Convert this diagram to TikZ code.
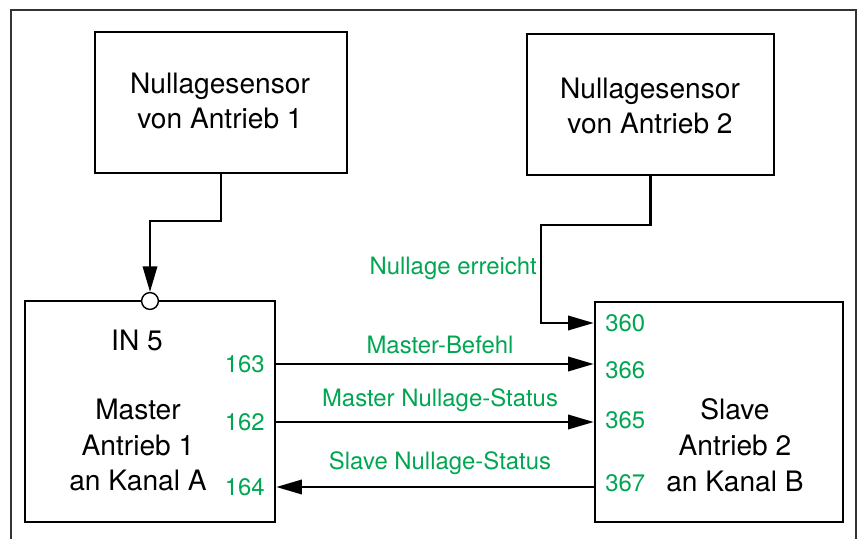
\documentclass[tikz,border=0pt]{standalone}
\usepackage{fontspec}
\setmainfont{TeX Gyre Heros}
\usetikzlibrary{positioning,arrows.meta}
\usepackage{xcolor}
\definecolor{sigGreen}{RGB}{0,166,81}

\begin{document}
\begin{tikzpicture}[x=0.025cm, y=-0.025cm,
  box/.style={draw, line width=1.8pt, inner sep=0pt},
  txt/.style={align=center, font=\fontsize{20}{25.5}\selectfont},
  sig/.style={text=sigGreen, inner sep=0pt, font=\fontsize{17}{20}\selectfont},
  arr/.style={line width=1.6pt, -{Triangle[length=0.64cm, width=0.36cm]}}]
  \useasboundingbox (0,0) rectangle (862,539);
  \draw[line width=0.9pt, black!80] (11,539) -- (11,10) -- (856,10) -- (856,539);

  % sensors
  \node[box, minimum width=6.3cm, minimum height=3.525cm](sensor1) at (221,102.5){};
  \node[txt] at (220,101){Nullagesensor\\von Antrieb 1};
  \node[box, minimum width=6.175cm, minimum height=3.525cm](sensor2) at (650.5,104.5){};
  \node[txt] at (650,106){Nullagesensor\\von Antrieb 2};

  % drives
  \node[box, minimum width=6.25cm, minimum height=5.525cm](master) at (150,411.5){};
  \node[txt] (in5) at (137,340){IN 5};
  \node[txt] (mastertxt) at (138,445){Master\\Antrieb 1\\an Kanal A};
  \node[box, minimum width=6.2cm, minimum height=5.5cm](slave) at (719,412){};
  \node[txt] (slavetxt) at (735,445){Slave\\Antrieb 2\\an Kanal B};
  \node[draw, circle, fill=white, line width=1pt, minimum size=0.42cm, inner sep=0pt](in5dot) at (150,301){};

  % terminals
  \node[sig, anchor=east](n163) at (265,364){163};
  \node[sig, anchor=east](n162) at (265,422){162};
  \node[sig, anchor=east](n164) at (265,487){164};
  \node[sig, anchor=west](n360) at (605,323){360};
  \node[sig, anchor=west](n366) at (605,370){366};
  \node[sig, anchor=west](n365) at (605,420){365};
  \node[sig, anchor=west](n367) at (605,483){367};
  \coordinate (k360) at (541,323);

  \draw[arr] (sensor1.south) -- ++(0,47) -| (in5dot.north);
  \draw[arr] (sensor2.south) -- ++(0,49) -| (k360) -- (slave.west |- k360);
  \draw[arr] (master.east |- n163) -- (slave.west |- n163);
  \draw[arr] (master.east |- n162) -- (slave.west |- n162);
  \draw[arr] (slave.west |- n164) -- (master.east |- n164);

  \node[sig, anchor=east](erreicht) at (537,268){Nullage erreicht};
  \node[sig](befehl) at (440,345){Master-Befehl};
  \node[sig](mstatus) at (440,400){Master Nullage-Status};
  \node[sig](sstatus) at (440,463){Slave Nullage-Status};
\end{tikzpicture}
\end{document}
